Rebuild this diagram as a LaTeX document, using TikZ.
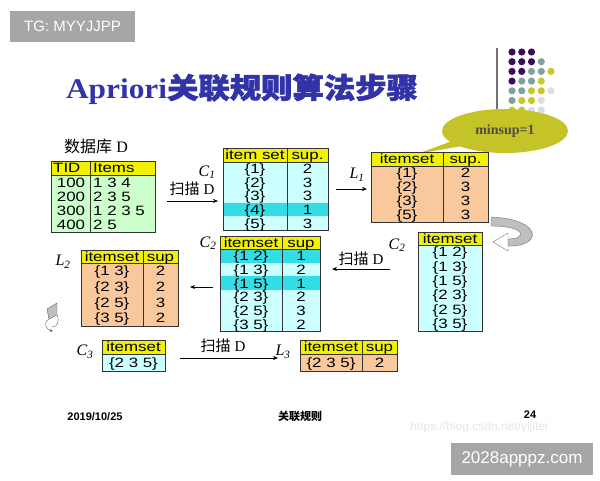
\documentclass[tikz,border=0pt]{standalone}
\usepackage{fontspec}
\setmainfont{Liberation Sans}
\newfontfamily\cjk{Noto Sans CJK SC}
\newfontfamily\tms{Liberation Serif}
\newfontfamily\tabfont{Liberation Sans}[FakeStretch=1.25]
\newfontfamily\ttlfont{Liberation Serif}[FakeStretch=1.1]
\newfontfamily\ttlcjk{Noto Sans CJK SC}[FakeStretch=1.1,FakeBold=2]
\usetikzlibrary{arrows.meta,shapes.callouts}

\definecolor{hdryellow}{HTML}{F2F200}
\definecolor{dbgreen}{HTML}{CCFFCC}
\definecolor{candcyan}{HTML}{CCFFFF}
\definecolor{lowcyan}{HTML}{33DDE6}
\definecolor{largepeach}{HTML}{F9C89C}
\definecolor{ttlblue}{HTML}{3333A8}
\definecolor{minsupolive}{HTML}{C4C428}
\definecolor{dotpurple}{HTML}{3A0D5C}
\definecolor{dotteal}{HTML}{7FA29D}
\definecolor{dotyellow}{HTML}{C8C828}
\definecolor{dotgray}{HTML}{DCDCE4}

\tikzset{
  cell/.style={inner sep=0pt, text height=9.7pt, text depth=0pt, font=\tabfont\fontsize{13.5}{14}\selectfont},
  tabline/.style={draw=black!80, line width=0.8pt},
  setname/.style={font=\tms\itshape\fontsize{16}{16}\selectfont, inner sep=0pt},
  scan/.style={font=\fontsize{15}{15}\selectfont, inner sep=0pt},
  flow/.style={-{Stealth[length=5pt,width=4pt]}, line width=0.6pt},
  tagbox/.style={fill=black!35, text=white, font=\fontsize{15}{15}\selectfont, inner sep=0pt},
  footer/.style={font=\bfseries\fontsize{11}{11}\selectfont, inner sep=0pt}
}

\begin{document}
\begin{tikzpicture}[x=1pt, y=-1pt]
    \useasboundingbox (0,0) rectangle (600,480);
    \node[tagbox, minimum width=125pt, minimum height=31pt] (tg) at (72.5,26.5) {TG: MYYJJPP};
    \node[text=ttlblue, inner sep=0pt] (title) at (242,89)
        {\fontsize{28.5}{30}\selectfont\ttlfont\bfseries Apriori\ttlcjk 关联规则算法步骤};

    % dot grid and minsup callout
    \draw[black!55, line width=1.2pt] (497,48) -- (497,112);
    \foreach \c/\r/\k in {1/1/dotpurple, 2/1/dotpurple, 3/1/dotpurple,
        1/2/dotpurple, 2/2/dotpurple, 3/2/dotpurple, 4/2/dotteal,
        1/3/dotpurple, 2/3/dotpurple, 3/3/dotteal, 4/3/dotteal, 5/3/dotyellow,
        1/4/dotpurple, 2/4/dotteal, 3/4/dotteal, 4/4/dotyellow,
        1/5/dotteal, 2/5/dotteal, 3/5/dotyellow, 4/5/dotyellow, 5/5/dotgray,
        1/6/dotteal, 2/6/dotyellow, 3/6/dotyellow, 4/6/dotgray,
        1/7/dotyellow, 2/7/dotyellow, 3/7/dotgray, 4/7/dotgray}
        \fill[\k] ({512+9.75*(\c-1)},{52+9.7*(\r-1)}) circle[radius=3.6pt];
    \coordinate (tip) at (417,154);
    \node[ellipse callout, fill=minsupolive, minimum width=126pt, minimum height=44pt,
        callout absolute pointer=(tip), text=black!70,
        font=\tms\bfseries\fontsize{14}{14}\selectfont] (minsup) at (505,131) {minsup=1};

    % database D
    \node[font=\fontsize{16}{16}\selectfont, inner sep=0pt] (dbname) at (96,146) {{\cjk 数据库} {\tms D}};
    \fill[hdryellow] (51,161) rectangle (155,175);
    \fill[dbgreen] (51,175) rectangle (155,232);
    \draw[tabline] (51,161) rectangle (155,232) (51,175) -- (155,175) (90,161) -- (90,232);
    \node[cell, anchor=west] (tid) at (53,168) {TID};
    \node[cell, anchor=west] (items) at (93,168) {Items};
    \foreach \t/\s [count=\i] in {100/1 3 4, 200/2 3 5, 300/1 2 3 5, 400/2 5} {
        \node[cell] (dt\i) at (71,{175+14.25*\i-7.1}) {\t};
        \node[cell, anchor=west] (ds\i) at (93,{175+14.25*\i-7.1}) {\s};
    }

    % scan D -> C1
    \node[setname] (c1name) at (207,172) {C\textsubscript{1}};
    \node[scan] (scan1) at (192,189) {{\cjk 扫描} {\tms D}};
    \coordinate (s1a) at (167,201);
    \coordinate (s1b) at (218,201);
    \draw[flow] (s1a) -- (s1b);

    % C1
    \fill[hdryellow] (223,148) rectangle (328,162);
    \fill[candcyan] (223,162) rectangle (328,230);
    \fill[lowcyan] (223,202.8) rectangle (328,216.4);
    \draw[tabline] (223,148) rectangle (328,230) (223,162) -- (328,162) (287,148) -- (287,230);
    \node[cell] (c1h1) at (255,155) {item set};
    \node[cell] (c1h2) at (307.5,155) {sup.};
    \foreach \t/\s [count=\i] in {1/2, 2/3, 3/3, 4/1, 5/3} {
        \node[cell] (c1t\i) at (255,{162+13.6*\i-6.8}) {\{\t\}};
        \node[cell] (c1s\i) at (307.5,{162+13.6*\i-6.8}) {\s};
    }

    % C1 -> L1
    \node[setname] (l1name) at (357,175) {L\textsubscript{1}};
    \coordinate (f1a) at (336,189);
    \coordinate (f1b) at (367,189);
    \draw[flow] (f1a) -- (f1b);

    % L1
    \fill[hdryellow] (371,152) rectangle (488,166);
    \fill[largepeach] (371,166) rectangle (488,222);
    \draw[tabline] (371,152) rectangle (488,222) (371,166) -- (488,166) (443,152) -- (443,222);
    \node[cell] (l1h1) at (407,159) {itemset};
    \node[cell] (l1h2) at (465.5,159) {sup.};
    \foreach \t/\s [count=\i] in {1/2, 2/3, 3/3, 5/3} {
        \node[cell] (l1t\i) at (407,{166+14*\i-7}) {\{\t\}};
        \node[cell] (l1s\i) at (465.5,{166+14*\i-7}) {\s};
    }

    % turn arrow L1 -> C2
    \draw[black!55, fill=black!25] (491,217) .. controls (543,219) and (543,247) .. (508,246)
        -- (508,239) .. controls (527,239) and (527,226) .. (491,226) -- cycle;
    \draw[black!55, fill=white] (493,242) -- (508,233) -- (508,251) -- cycle;

    % C2 (right)
    \node[setname] (c2rname) at (397,245) {C\textsubscript{2}};
    \fill[hdryellow] (418,232) rectangle (482,245);
    \fill[candcyan] (418,245) rectangle (482,331);
    \draw[tabline] (418,232) rectangle (482,331) (418,245) -- (482,245);
    \node[cell] (c2rh) at (450,238.5) {itemset};
    \foreach \t [count=\i] in {1 2, 1 3, 1 5, 2 3, 2 5, 3 5}
        \node[cell] (c2r\i) at (450,{245+14.33*\i-7.2}) {\{\t\}};

    % scan D -> C2
    \node[scan] (scan2) at (361,259) {{\cjk 扫描} {\tms D}};
    \coordinate (s2a) at (390,269);
    \coordinate (s2b) at (332,269);
    \draw[flow] (s2a) -- (s2b);

    % C2 (middle)
    \node[setname] (c2mname) at (208,243) {C\textsubscript{2}};
    \fill[hdryellow] (220,236) rectangle (320,249);
    \fill[candcyan] (220,249) rectangle (320,331);
    \fill[lowcyan] (220,249) rectangle (320,262.7);
    \fill[lowcyan] (220,276.3) rectangle (320,290);
    \draw[tabline] (220,236) rectangle (320,331) (220,249) -- (320,249) (282,236) -- (282,331);
    \node[cell] (c2mh1) at (251,242.5) {itemset};
    \node[cell] (c2mh2) at (301,242.5) {sup};
    \foreach \t/\s [count=\i] in {1 2/1, 1 3/2, 1 5/1, 2 3/2, 2 5/3, 3 5/2} {
        \node[cell] (c2mt\i) at (251,{249+13.67*\i-6.8}) {\{\t\}};
        \node[cell] (c2ms\i) at (301,{249+13.67*\i-6.8}) {\s};
    }

    % C2 -> L2
    \coordinate (f2a) at (213,287);
    \coordinate (f2b) at (190,287);
    \draw[flow] (f2a) -- (f2b);

    % L2
    \node[setname] (l2name) at (63,262) {L\textsubscript{2}};
    \fill[hdryellow] (81,250) rectangle (178,263);
    \fill[largepeach] (81,263) rectangle (178,326);
    \draw[tabline] (81,250) rectangle (178,326) (81,263) -- (178,263) (143,250) -- (143,326);
    \node[cell] (l2h1) at (112,256.5) {itemset};
    \node[cell] (l2h2) at (160.5,256.5) {sup};
    \foreach \t/\s [count=\i] in {1 3/2, 2 3/2, 2 5/3, 3 5/2} {
        \node[cell] (l2t\i) at (112,{263+15.75*\i-7.9}) {\{\t\}};
        \node[cell] (l2s\i) at (160.5,{263+15.75*\i-7.9}) {\s};
    }

    % small turn arrow L2 -> C3
    \draw[black!60, fill=black!25] (47,309) -- (57,303) -- (57,315) -- (49,319) -- cycle;
    \draw[black!60, -{Stealth[length=3pt,width=3pt]}] (49,319) .. controls (42,324) and (47,330) .. (53,331);
    \draw[black!60] (57,315) .. controls (60,322) and (57,327) .. (52,327);

    % C3
    \node[setname] (c3name) at (85,352) {C\textsubscript{3}};
    \fill[hdryellow] (102,340) rectangle (165,354);
    \fill[candcyan] (102,354) rectangle (165,371);
    \draw[tabline] (102,340) rectangle (165,371) (102,354) -- (165,354);
    \node[cell] (c3h) at (133.5,347) {itemset};
    \node[cell] (c3t) at (133.5,362.5) {\{2 3 5\}};

    % scan D -> L3
    \node[scan] (scan3) at (223,346) {{\cjk 扫描} {\tms D}};
    \coordinate (s3a) at (180,358);
    \coordinate (s3b) at (278,358);
    \draw[flow] (s3a) -- (s3b);

    % L3
    \node[setname] (l3name) at (283,352) {L\textsubscript{3}};
    \fill[hdryellow] (300,340) rectangle (397,354);
    \fill[largepeach] (300,354) rectangle (397,371);
    \draw[tabline] (300,340) rectangle (397,371) (300,354) -- (397,354) (362,340) -- (362,371);
    \node[cell] (l3h1) at (331,347) {itemset};
    \node[cell] (l3h2) at (379.5,347) {sup};
    \node[cell] (l3t) at (331,362.5) {\{2 3 5\}};
    \node[cell] (l3s) at (379.5,362.5) {2};

    % footer
    \node[footer] (date) at (95,417) {2019/10/25};
    \node[footer] (topic) at (300,416) {\cjk 关联规则};
    \node[footer] (page) at (530,415) {24};
    \node[text=black!10, inner sep=0pt, font=\fontsize{12}{12}\selectfont] (wm) at (479,427) {https://blog.csdn.net/yljitei};
    \node[tagbox, minimum width=142pt, minimum height=32pt, font=\fontsize{17}{17}\selectfont] (site) at (522,459) {2028apppz.com};
\end{tikzpicture}
\end{document}
